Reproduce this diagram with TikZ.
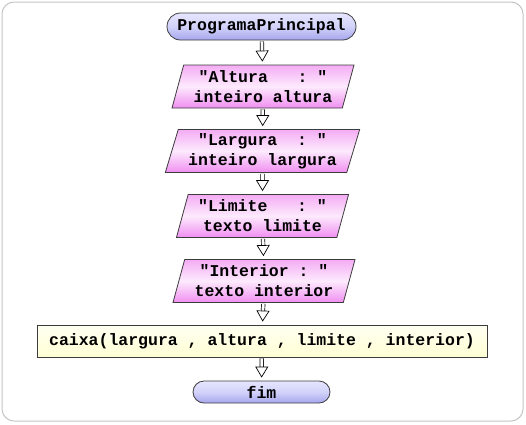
\documentclass[tikz,border=0pt]{standalone}
\usepackage{fontspec}
\setmonofont{Liberation Mono}
\usetikzlibrary{shapes.geometric,shapes.misc,arrows.meta}

\definecolor{edge}{HTML}{3C3C3C}
\definecolor{frame}{HTML}{C4C4C4}
\definecolor{termtop}{HTML}{E6E6FF}
\definecolor{termmid}{HTML}{D2D2FA}
\definecolor{termbot}{HTML}{A6A6EE}
\definecolor{iotop}{HTML}{F4ACF4}
\definecolor{iomid}{HTML}{FDEAFD}
\definecolor{iobot}{HTML}{F08EF0}
\definecolor{proctop}{HTML}{FFFFF2}
\definecolor{procbot}{HTML}{FFFFD4}

\begin{document}
\begin{tikzpicture}[x=1pt,y=-1pt,
  every node/.style={font=\ttfamily\bfseries\fontsize{16.5}{20}\selectfont, draw=edge, line width=0.8pt},
  terminal/.style={rounded rectangle, top color=termtop, bottom color=termbot, middle color=termmid, inner sep=0pt},
  inout/.style={trapezium, trapezium left angle=70, trapezium right angle=110, trapezium stretches=true,
    top color=iotop, bottom color=iobot, middle color=iomid, align=center, inner xsep=10pt, inner ysep=0pt, minimum height=43pt},
  process/.style={rectangle, top color=proctop, bottom color=procbot, minimum width=450pt, minimum height=32pt, inner sep=0pt},
  flow/.style={draw=black, line width=0.7pt, double=white, double distance=2.8pt,
    -{Triangle[open, width=13pt, length=11pt, line width=0.7pt]}, shorten <=1pt, shorten >=3pt}]
\useasboundingbox (0,0) rectangle (526,424);
\draw[frame, line width=1pt, rounded corners=12pt] (2,2) rectangle (523,421);

\node[terminal, minimum width=189pt, minimum height=27pt] (prog) at (261.5,26.5) {ProgramaPrincipal};
\node[inout] (altura) at (263,86.5) {"Altura~~~:~"\\inteiro altura};
\node[inout] (largura) at (262.5,151) {"Largura~~:~"\\inteiro largura};
\node[inout] (limite) at (262.5,216) {"Limite~~~:~"\\texto limite};
\node[inout] (interior) at (264,281) {"Interior~:~"\\texto interior};
\node[process] (caixa) at (262,341) {caixa(largura , altura , limite , interior)};
\node[terminal, minimum width=137pt, minimum height=22pt] (fim) at (261.5,392) {fim};

% flow between the steps
\draw[flow] (prog) -- (altura);
\draw[flow] (altura) -- (largura);
\draw[flow] (largura) -- (limite);
\draw[flow] (limite) -- (interior);
\draw[flow] (interior) -- (caixa);
\draw[flow] (caixa) -- (fim);
\end{tikzpicture}
\end{document}
